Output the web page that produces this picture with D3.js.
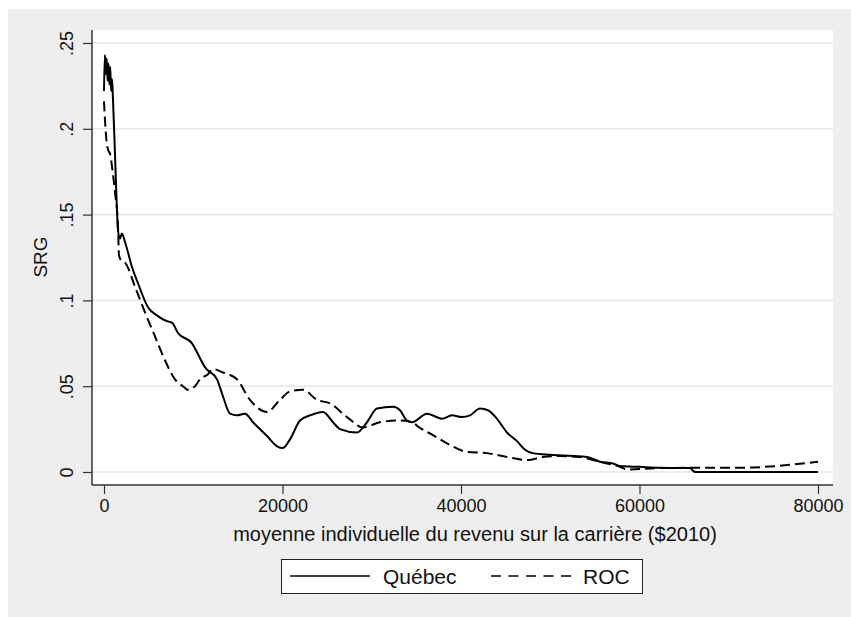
<!DOCTYPE html>
<html>
<head>
<meta charset="utf-8">
<script src="https://cdn.jsdelivr.net/npm/d3@7"></script>
<style>
  body { margin: 0; background: #fff; }
  text { font-family: Arial, "Liberation Sans", sans-serif; fill: #111; }
</style>
</head>
<body>
<svg width="851" height="617"></svg>
<script>
/* densite SRG selon le revenu moyen */

var quebecX = [0, 100, 200, 300, 400, 500, 600, 700, 800, 900, 1008, 1200, 1345, 1569, 1800, 2000, 2353, 2689, 3100, 3810, 4930, 6000, 7000, 7619, 8291, 9860, 11092, 11317, 12661, 13333, 14118, 14902, 15798, 16695, 18263, 19384, 20056, 20840, 21961, 23081, 24538, 25658, 26443, 28347, 29468, 30588, 32381, 33165, 33950, 34510, 36190, 37871, 38992, 40112, 41008, 42129, 43025, 44034, 45154, 46275, 47171, 48067, 49972, 52549, 54118, 55574, 57031, 57815, 60000, 62297, 65658, 66100, 66300, 70000, 75000, 80000];
var quebecY = [0.222, 0.243, 0.232, 0.241, 0.228, 0.238, 0.226, 0.236, 0.222, 0.229, 0.217, 0.19, 0.168, 0.141, 0.136, 0.139, 0.134, 0.128, 0.12, 0.110, 0.096, 0.091, 0.088, 0.087, 0.081, 0.075, 0.063, 0.061, 0.054, 0.044, 0.034, 0.033, 0.034, 0.029, 0.021, 0.015, 0.014, 0.019, 0.030, 0.033, 0.035, 0.029, 0.025, 0.023, 0.029, 0.037, 0.038, 0.036, 0.030, 0.029, 0.034, 0.031, 0.033, 0.032, 0.033, 0.037, 0.036, 0.031, 0.023, 0.018, 0.013, 0.011, 0.010, 0.0093, 0.0087, 0.006, 0.005, 0.0035, 0.003, 0.0025, 0.0023, 0.0003, 0, 0, 0, 0];

var rocX = [0, 112, 300, 448, 700, 896, 1232, 1569, 1681, 2000, 2353, 3473, 4594, 5714, 6835, 7955, 9076, 9300, 10196, 10756, 11653, 12213, 13333, 14902, 16359, 18263, 19720, 20840, 22297, 23866, 25322, 27227, 29020, 30924, 33165, 34622, 35070, 36863, 38768, 40672, 42913, 45154, 47395, 49188, 51092, 53333, 54790, 56359, 57815, 58600, 62297, 67900, 71600, 75400, 80000];
var rocY = [0.216, 0.205, 0.192, 0.188, 0.185, 0.178, 0.163, 0.143, 0.126, 0.123, 0.122, 0.108, 0.093, 0.079, 0.065, 0.054, 0.049, 0.048, 0.050, 0.054, 0.057, 0.060, 0.058, 0.054, 0.042, 0.035, 0.042, 0.047, 0.048, 0.042, 0.040, 0.032, 0.026, 0.029, 0.030, 0.029, 0.027, 0.0215, 0.0157, 0.0117, 0.011, 0.0087, 0.007, 0.0087, 0.0093, 0.0087, 0.007, 0.005, 0.003, 0.0015, 0.0023, 0.0025, 0.0025, 0.0035, 0.006];

var xTicks = [0, 20000, 40000, 60000, 80000];
var yTicks = [0, 0.05, 0.1, 0.15, 0.2, 0.25];
var yTickLabels = ["0", ".05", ".1", ".15", ".2", ".25"];
var seriesNames = ["Québec", "ROC"];

var svg = d3.select("svg");

// fond gris et zone blanche
svg.append("rect").attr("x", 8).attr("y", 9).attr("width", 843).attr("height", 608).attr("fill", "#eeeeee");
svg.append("rect").attr("x", 92).attr("y", 30).attr("width", 741).attr("height", 455).attr("fill", "#ffffff");

var x = d3.scaleLinear().domain([0, 80000]).range([104, 818]);
var y = d3.scaleLinear().domain([0, 0.25]).range([472, 43]);

// grille
svg.append("g")
    .selectAll("line")
    .data(yTicks)
    .enter().append("line")
    .attr("x1", 92).attr("x2", 833)
    .attr("y1", function (d) { return y(d); })
    .attr("y2", function (d) { return y(d); })
    .attr("stroke", "#e6e6e6")
    .attr("stroke-width", 1.6);

// axe y
var yAxis = svg.append("g")
    .attr("transform", "translate(92,0)")
    .call(d3.axisLeft(y).tickValues(yTicks).tickSize(9).tickPadding(9)
        .tickFormat(function (d, i) { return yTickLabels[i]; }));
yAxis.select(".domain").attr("d", "M0,30V485").attr("stroke", "#333").attr("stroke-width", 1.5);
yAxis.selectAll(".tick line").attr("stroke", "#333").attr("stroke-width", 1.2);
yAxis.selectAll(".tick text")
    .attr("font-size", 18)
    .attr("text-anchor", "middle")
    .attr("font-family", "Arial, 'Liberation Sans', sans-serif")
    .attr("fill", "#111")
    .attr("x", 0)
    .attr("y", 0)
    .attr("dy", "0.35em")
    .attr("transform", "translate(-25,0) rotate(-90)");

// axe x
var xAxis = svg.append("g")
    .attr("transform", "translate(0,485)")
    .call(d3.axisBottom(x).tickValues(xTicks).tickSize(9).tickPadding(5)
        .tickFormat(d3.format("d")));
xAxis.select(".domain").attr("d", "M92,0H833").attr("stroke", "#333").attr("stroke-width", 1.5);
xAxis.selectAll(".tick line").attr("stroke", "#333").attr("stroke-width", 1.2);
xAxis.selectAll(".tick text")
    .attr("font-size", 18)
    .attr("font-family", "Arial, 'Liberation Sans', sans-serif")
    .attr("fill", "#111");

// titres
svg.append("text")
    .attr("x", 475).attr("y", 541)
    .attr("text-anchor", "middle")
    .attr("font-size", 20)
    .text("moyenne individuelle du revenu sur la carrière ($2010)");

svg.append("text")
    .attr("transform", "translate(47,257) rotate(-90)")
    .attr("text-anchor", "middle")
    .attr("font-size", 19)
    .text("SRG");

// courbes
var line = d3.line()
    .x(function (d) { return x(d[0]); })
    .y(function (d) { return y(d[1]); })
    .curve(d3.curveMonotoneX);

var quebec = quebecX.map(function (v, i) { return [v, quebecY[i]]; });
var roc = rocX.map(function (v, i) { return [v, rocY[i]]; });

svg.append("path")
    .datum(roc)
    .attr("d", line)
    .attr("fill", "none")
    .attr("stroke", "#000")
    .attr("stroke-width", 2)
    .attr("stroke-dasharray", "10,5");

svg.append("path")
    .datum(quebec)
    .attr("d", line)
    .attr("fill", "none")
    .attr("stroke", "#000")
    .attr("stroke-width", 2);

// legende
var legend = svg.append("g");
legend.append("rect")
    .attr("x", 281.5).attr("y", 559.5).attr("width", 361).attr("height", 34)
    .attr("fill", "#fff").attr("stroke", "#222").attr("stroke-width", 1);

legend.append("line")
    .attr("x1", 290).attr("x2", 370).attr("y1", 576).attr("y2", 576)
    .attr("stroke", "#000").attr("stroke-width", 1.6);
legend.append("text")
    .attr("x", 383).attr("y", 583.5).attr("font-size", 21).text(seriesNames[0]);

legend.append("line")
    .attr("x1", 491).attr("x2", 571).attr("y1", 576).attr("y2", 576)
    .attr("stroke", "#000").attr("stroke-width", 1.6)
    .attr("stroke-dasharray", "10,7.5");
legend.append("text")
    .attr("x", 583).attr("y", 583.5).attr("font-size", 21).text(seriesNames[1]);
</script>
</body>
</html>
